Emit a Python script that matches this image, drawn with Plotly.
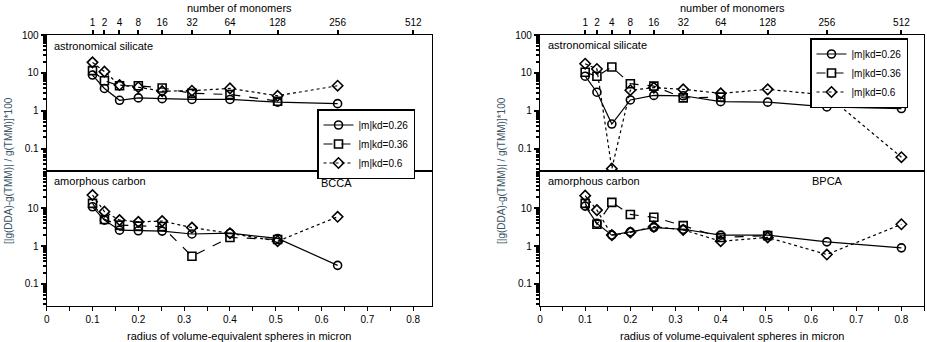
import numpy as np
import plotly.graph_objects as go

# number of monomers and the matching volume-equivalent radius (micron)
monomers = [1, 2, 4, 8, 16, 32, 64, 128, 256, 512]
radius = [0.1, 0.126, 0.159, 0.2, 0.252, 0.317, 0.4, 0.504, 0.635, 0.8]

# BCCA (left panel) - relative difference in percent
bcca_sil_026 = [8.8, 3.9, 1.9, 2.2, 2.1, 2.0, 2.0, 1.7, 1.55]
bcca_sil_036 = [11.5, 6.2, 4.6, 4.6, 4.0, 2.9, 2.7, 1.8]
bcca_sil_06 = [19.0, 10.8, 4.8, 4.2, 3.3, 3.4, 3.9, 2.5, 4.6]
bcca_car_026 = [11.0, 4.9, 2.65, 2.55, 2.5, 2.1, 2.2, 1.6, 0.31]
bcca_car_036 = [13.6, 5.1, 3.6, 3.4, 3.3, 0.54, 1.7, 1.5]
bcca_car_06 = [22.6, 8.2, 4.9, 4.4, 4.6, 3.1, 2.2, 1.35, 6.0]

# BPCA (right panel)
bpca_sil_026 = [8.2, 3.1, 0.45, 1.94, 2.56, 2.5, 1.75, 1.7, 1.27, 1.15]
bpca_sil_036 = [10.4, 8.2, 14.3, 5.2, 4.5, 2.2, 2.3]
bpca_sil_06 = [17.5, 12.7, 0.03, 3.5, 4.1, 3.7, 2.9, 3.7, 2.6, 0.06]
bpca_car_026 = [11.5, 4.0, 1.96, 2.4, 3.1, 2.8, 1.96, 1.96, 1.3, 0.9]
bpca_car_036 = [13.6, 3.8, 14.4, 6.9, 5.8, 3.5, 1.7, 1.9]
bpca_car_06 = [21.7, 9.0, 1.96, 2.3, 3.3, 2.7, 1.35, 1.7, 0.6, 3.8]

labels = ["|m|kd=0.26", "|m|kd=0.36", "|m|kd=0.6"]
symbols = ["circle-open", "square-open", "diamond-open"]
dashes = ["solid", "dash", "dot"]

W, H = 927, 342
FONT = "Liberation Sans, Arial, sans-serif"
TITLE_COL = "#3a5566"

fig = go.Figure()

panels = [
    ("x", "y", [bcca_sil_026, bcca_sil_036, bcca_sil_06], "legend", True),
    ("x2", "y2", [bcca_car_026, bcca_car_036, bcca_car_06], None, False),
    ("x3", "y3", [bpca_sil_026, bpca_sil_036, bpca_sil_06], "legend2", True),
    ("x4", "y4", [bpca_car_026, bpca_car_036, bpca_car_06], None, False),
]
for xa, ya, series, leg, show in panels:
    for i, vals in enumerate(series):
        fig.add_trace(go.Scatter(
            x=radius[:len(vals)], y=vals, xaxis=xa, yaxis=ya,
            mode="lines+markers", name=labels[i],
            line=dict(color="black", width=1.2, dash=dashes[i]),
            marker=dict(symbol=symbols[i], size=8, color="black",
                        line=dict(width=1.6, color="black")),
            showlegend=show, legend=leg if leg else "legend",
        ))

def px_x(p):
    return p / W

def px_y(p):
    return 1 - p / H

top_range = [np.log10(0.026), 2.0]
bot_range = [np.log10(0.026), 1.99]
left_dom = [px_x(46.7), px_x(432)]
right_dom = [px_x(540), px_x(924)]
top_dom = [px_y(171), px_y(35)]
bot_dom = [px_y(306), px_y(171)]

tickfont = dict(family=FONT, size=10, color="black")

def yaxis(dom, anchor, rng):
    return dict(type="log", range=rng, domain=dom, anchor=anchor, automargin=False,
                dtick=1, ticks="outside", ticklen=5, tickwidth=1.5, tickcolor="black",
                minor=dict(dtick="D1", ticks="outside", ticklen=3, tickcolor="black",
                           showgrid=False),
                showline=True, linecolor="black", linewidth=1.2, mirror=True,
                showgrid=False, zeroline=False, tickfont=tickfont)

def xaxis_top(dom, anchor, rng):
    return dict(range=rng, domain=dom, anchor=anchor, showticklabels=False,
                automargin=False, ticks="", showline=True, linecolor="black",
                linewidth=1.2, mirror=True, showgrid=False, zeroline=False)

def xaxis_bot(dom, anchor, rng):
    return dict(range=rng, domain=dom, anchor=anchor, automargin=False,
                tickvals=[0, 0.1, 0.2, 0.3, 0.4, 0.5, 0.6, 0.7, 0.8],
                ticktext=["0", "0.1", "0.2", "0.3", "0.4", "0.5", "0.6", "0.7", "0.8"],
                ticks="outside", ticklen=4, tickwidth=1.2, tickcolor="black",
                minor=dict(dtick=0.05, tick0=0, ticks="outside", ticklen=4,
                           tickcolor="black"),
                showline=True, linecolor="black", linewidth=1.2, mirror=True,
                showgrid=False, zeroline=False, tickfont=tickfont)

def xaxis_mono(over, anchor, rng, dom):
    return dict(overlaying=over, side="top", anchor=anchor, range=rng, domain=dom,
                automargin=False,
                tickvals=[0.1 * n ** (1 / 3) for n in monomers],
                ticktext=[str(n) for n in monomers],
                ticks="outside", ticklen=4, tickwidth=1.5, tickcolor="black",
                showgrid=False, zeroline=False, showline=False, tickfont=tickfont)

lrng = [0, 0.841]
rrng = [0, 0.85]

fig.add_trace(go.Scatter(x=[None], y=[None], xaxis="x5", yaxis="y", showlegend=False))
fig.add_trace(go.Scatter(x=[None], y=[None], xaxis="x6", yaxis="y3", showlegend=False))

legbox = dict(bgcolor="white", bordercolor="black", borderwidth=1.5,
              font=dict(family=FONT, size=10, color="black"),
              tracegroupgap=0, itemwidth=30)

fig.update_layout(
    width=W, height=H, margin=dict(l=0, r=0, t=0, b=0),
    paper_bgcolor="white", plot_bgcolor="white",
    font=dict(family=FONT, size=11, color="black"),
    xaxis=xaxis_top(left_dom, "y", lrng),
    yaxis=yaxis(top_dom, "x", top_range),
    xaxis2=xaxis_bot(left_dom, "y2", lrng),
    yaxis2=yaxis(bot_dom, "x2", bot_range),
    xaxis3=xaxis_top(right_dom, "y3", rrng),
    yaxis3=yaxis(top_dom, "x3", top_range),
    xaxis4=xaxis_bot(right_dom, "y4", rrng),
    yaxis4=yaxis(bot_dom, "x4", bot_range),
    xaxis5=xaxis_mono("x", "y", lrng, left_dom),
    xaxis6=xaxis_mono("x3", "y3", rrng, right_dom),
    legend=dict(x=px_x(317), y=px_y(109), xanchor="left", yanchor="top", **legbox),
    legend2=dict(x=px_x(810), y=px_y(38), xanchor="left", yanchor="top", **legbox),
    showlegend=True,
)

ann_font = dict(family=FONT, size=11, color="black")
texts = [
    ("astronomical silicate", 52, 46),
    ("amorphous carbon", 52, 181),
    ("BCCA", 319, 183),
    ("astronomical silicate", 546, 45),
    ("amorphous carbon", 546, 181),
    ("BPCA", 810, 181),
]
for t, xp, yp in texts:
    fig.add_annotation(text=t, xref="paper", yref="paper", x=px_x(xp), y=px_y(yp),
                       xanchor="left", yanchor="middle", showarrow=False, font=ann_font)

# axis titles placed as annotations for exact positioning
for cx in [(46.7 + 432) / 2, (540 + 924) / 2]:
    fig.add_annotation(text="radius of volume-equivalent spheres in micron",
                       xref="paper", yref="paper", x=px_x(cx), y=px_y(335.5),
                       xanchor="center", yanchor="middle", showarrow=False, font=ann_font)
    fig.add_annotation(text="number of monomers",
                       xref="paper", yref="paper", x=px_x(cx), y=px_y(8),
                       xanchor="center", yanchor="middle", showarrow=False, font=ann_font)

for xp in [8, 501]:
    fig.add_annotation(text="[|g(DDA)-g(TMM)| / g(TMM)]*100", xref="paper", yref="paper",
                       x=px_x(xp), y=px_y(171), textangle=-90, showarrow=False,
                       xanchor="center", yanchor="middle",
                       font=dict(family=FONT, size=10, color=TITLE_COL))

fig.write_html("out.html", config={"displayModeBar": False},
               post_script="document.body.style.margin='0';")
